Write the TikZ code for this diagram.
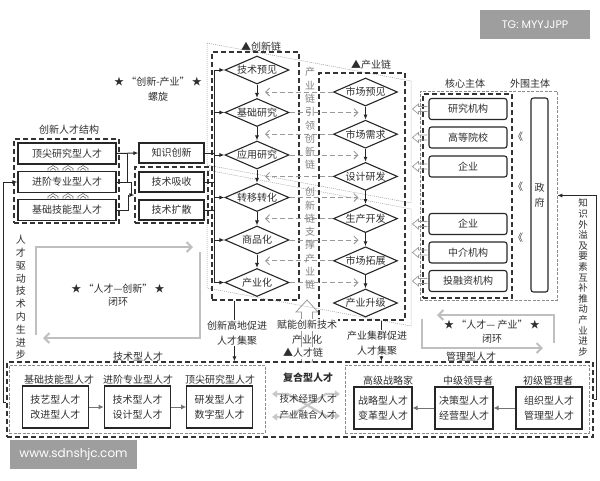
\documentclass[tikz,border=0pt]{standalone}
\usepackage{fontspec}
\setmainfont{Noto Sans CJK SC}
\newfontfamily\wmfont{Poppins}
\usetikzlibrary{arrows.meta,shapes.geometric,calc}
\begin{document}
\begin{tikzpicture}[x=1pt,y=-1pt,
  every node/.style={inner sep=0pt, text=black!82},
  font=\fontsize{10}{12}\selectfont,
  box/.style={draw=black!85, line width=1.1pt, minimum height=21pt},
  rbox/.style={box, rounded corners=2.5pt},
  dia/.style={diamond, draw=black!85, line width=1.1pt, aspect=2.3, minimum width=64pt, minimum height=28pt},
  dframe/.style={draw=black!80, line width=1.1pt, dash pattern=on 5pt off 3pt},
  gframe/.style={draw=black!45, line width=0.6pt, dash pattern=on 3pt off 1.5pt},
  dotq/.style={draw=black!40, line width=0.5pt, dash pattern=on 1pt off 1pt},
  ln/.style={draw=black!85, line width=1pt},
  arr/.style={ln, -{Latex[length=5pt,width=4pt]}},
  garr/.style={draw=black!40, line width=0.9pt, dash pattern=on 5pt off 3pt, -{Straight Barb[length=4pt,width=8pt]}},
  loopa/.style={draw=black!25, line width=2pt, -{Straight Barb[length=5pt,width=10pt]}},
  barr/.style={draw=black!55, line width=1pt, -{Latex[length=5pt,width=5pt]}},
  hol/.style={draw=black!40, line width=0.7pt},
  xarr/.style={draw=black!22, line width=2.2pt, {Triangle[length=5pt,width=7pt]}-{Triangle[length=5pt,width=7pt]}},
  vt/.style={align=center},
  two/.style={align=center, font=\fontsize{10}{15}\selectfont},
]
\useasboundingbox (0,0) rectangle (600,480);

% dotted spiral quadrilaterals
\draw[dotq] (207,43) -- (411,81) -- (411,203) -- (207,165) -- cycle;
\draw[dotq] (207,170) -- (411,209) -- (411,326) -- (207,288) -- cycle;

% gray loops
\draw[loopa] (36,335) -- (36,247) -- (193,247);
\draw[loopa] (200,252) -- (200,338) -- (43,338);
\draw[loopa] (554,343) -- (554,315) -- (437,315);
\draw[loopa] (422,319) -- (422,348) -- (543,348);

% hollow up arrow between chains
\draw[draw=black!40, line width=0.8pt] (307,300) -- (318,312) -- (312.5,312) -- (312.5,362) -- (301.5,362) -- (301.5,312) -- (296,312) -- cycle;

% frames
\node[dframe, minimum width=105, minimum height=84] (Fl) at (66.5,181) {};
\node[dframe, minimum width=73, minimum height=56] (Ft) at (171.5,195) {};
\node[dframe, minimum width=87, minimum height=248] (Fi) at (255.5,176) {};
\node[dframe, minimum width=86, minimum height=247] (Fp) at (362,196.5) {};
\node[gframe, minimum width=137, minimum height=209] (Fo) at (488.5,195.5) {};
\node[dframe, minimum width=89, minimum height=204] (Fc) at (467.5,196) {};
\node[dframe, minimum width=586, minimum height=75] (Fb) at (300,399.5) {};
\node[gframe, minimum width=256, minimum height=68] (Gl) at (137,399) {};
\node[gframe, minimum width=244, minimum height=68] (Gr) at (467,399) {};

% left talent boxes
\node[box, minimum width=98] (t1) at (67,153.5) {顶尖研究型人才};
\node[box, minimum width=98] (t2) at (67,182) {进阶专业型人才};
\node[box, minimum width=98] (t3) at (67,210) {基础技能型人才};
\foreach \x in {53,68,83} \foreach \y in {168,196} {
  \draw[black!55, line width=0.6pt] (\x-5,\y+2.5) -- (\x-5,\y+0.5) -- (\x,\y-2.5) -- (\x+5,\y+0.5) -- (\x+5,\y+2.5);
  \draw[black!55, line width=0.6pt] (\x-3,\y+2.5) -- (\x,\y) -- (\x+3,\y+2.5);
}
\node[box, minimum width=65, minimum height=20] (k1) at (171.5,153) {知识创新};
\node[box, minimum width=65, minimum height=20] (k2) at (171.5,182) {技术吸收};
\node[box, minimum width=65, minimum height=20] (k3) at (171.5,210) {技术扩散};

% innovation chain diamonds
\node[dia] (c1) at (257,70) {技术预见};
\node[dia] (c2) at (257,112.5) {基础研究};
\node[dia] (c3) at (257,155) {应用研究};
\node[dia] (c4) at (257,197.5) {转移转化};
\node[dia] (c5) at (257,240) {商品化};
\node[dia] (c6) at (257,282.5) {产业化};
% industry chain diamonds
\node[dia] (p1) at (365.5,92) {市场预见};
\node[dia] (p2) at (365.5,134.2) {市场需求};
\node[dia] (p3) at (365.5,176.4) {设计研发};
\node[dia] (p4) at (365.5,218.6) {生产开发};
\node[dia] (p5) at (365.5,260.8) {市场拓展};
\node[dia] (p6) at (365.5,303) {产业升级};

\foreach \i/\j in {1/2,2/3,3/4,4/5,5/6} {
  \draw[arr] (c\i.south) -- (c\j.north);
  \draw[arr] (p\i.south) -- (p\j.north);
}
\foreach \i in {1,...,5} \draw[garr] (p\i.west) -- ($(p\i.west -| c1.center)+(8,0)$);
\foreach \i in {2,...,6} \draw[garr] (c\i.east) -- ($(c\i.east -| p1.center)+(-7,0)$);

% bus into innovation chain
\coordinate (bt) at (214,70);
\coordinate (bb) at (214,282.5);
\draw[ln] (bt) -- (bb);
\foreach \i in {1,...,6} \draw[arr] (c\i.west -| bt) -- (c\i.west);
\draw[ln] (k1.east) -- (k1.east -| bt);
\draw[ln] (k2.east) -- (k2.east -| bt);
\draw[ln] (k3.east) -- (k3.east -| bt);

% left group connectors
\draw[arr] (t1.east) -- (k1.west);
\draw[ln] (t2.east) -| ($(t1.east)+(11,0)$);
\draw[arr] (t2.east) -- ++(15,0) |- (Ft.west);
\draw[ln] (t3.east) -| ($(Ft.west)+(-6,0)$);

% core / peripheral subjects
\node[rbox, minimum width=78] (s1) at (468,109) {研究机构};
\node[rbox, minimum width=78] (s2) at (468,137.5) {高等院校};
\node[rbox, minimum width=78] (s3) at (468,166.5) {企业};
\node[rbox, minimum width=78] (s4) at (468,224) {企业};
\node[rbox, minimum width=78] (s5) at (468,252.5) {中介机构};
\node[rbox, minimum width=78] (s6) at (468,281) {投融资机构};
\foreach \n in {s1,s2,s3,s4,s5,s6}
  \draw[hol] ($(\n.west)+(-1,-2.5)$) -- ++(-9,0) -- ++(0,-2.5) -- ++(-6,5) -- ++(6,5) -- ++(0,-2.5) -- ++(9,0);
\node[rbox, minimum width=17, minimum height=194, align=center, font=\fontsize{10}{15}\selectfont] (gov) at (539.5,195) {政\\府};
\node (q1) at (518,137) {《};
\node (q2) at (518,187) {《};
\node (q3) at (518,238) {《};

% bottom talent chain
\node[box, minimum width=65.5, minimum height=42, two] (b1) at (55.5,407) {技艺型人才\\改进型人才};
\node[box, minimum width=66.5, minimum height=42, two] (b2) at (137.5,407) {技术型人才\\设计型人才};
\node[box, minimum width=65.5, minimum height=42, two] (b3) at (219.5,407) {研发型人才\\数字型人才};
\node[box, minimum width=58, minimum height=42, two] (m1) at (383,408) {战略型人才\\变革型人才};
\node[box, minimum width=58, minimum height=42, two] (m2) at (464,408) {决策型人才\\经营型人才};
\node[box, minimum width=66, minimum height=42, two] (m3) at (549,408) {组织型人才\\管理型人才};
\draw[barr] (b1) -- (b2);
\draw[barr] (b2) -- (b3);
\draw[barr] (m3) -- (m2);
\draw[barr] (m2) -- (m1);
\draw[xarr] (272,394) -- (288,394) -- (326,416) -- (340,416);
\draw[xarr] (272,417) -- (288,417) -- (326,394) -- (340,394);

% chain to bottom connectors
\coordinate (ia) at ($(Fi.south west)+(23,0)$);
\draw[arr] (ia) -- (ia |- Fb.north);
\coordinate (pa) at ($(Fp.south west)+(63,0)$);
\draw[arr] (pa) -- (pa |- Fb.north);
% side connectors
\coordinate (lb) at (Fb.west |- 0,402);
\draw[arr] (lb) -- ++(-3,0) |- (t2.west);
\coordinate (rb) at (Fb.east |- 0,399);
\draw[arr] (rb) -- ++(3,0) |- (Fo.east);

% texts
\node (h1) at (261,47) {▲创新链};
\node (h2) at (371,65) {▲产业链};
\node (h3) at (465,84) {核心主体};
\node (h4) at (530,84) {外围主体};
\node (h5) at (69,130) {创新人才结构};
\node (h6) at (158,82) {★ “创新-产业” ★};
\node (h7) at (158,97) {螺旋};
\node (h8) at (118,289) {★ “人才—创新” ★};
\node (h9) at (118,302) {闭环};
\node (h10) at (492,325) {★ “人才— 产业” ★};
\node (h11) at (492,339) {闭环};
\node[fill=white, inner sep=1pt, two] (lab1) at (237,333) {创新高地促进\\人才集聚};
\node[fill=white, inner sep=1pt, two] (lab2) at (377,343) {产业集群促进\\人才集聚};
\node[fill=white, inner sep=1pt] (lab3) at (307,325) {赋能创新技术};
\node (lab4) at (307,340) {产业化};
\node[fill=white, inner sep=1pt] (lab5) at (303,353) {▲人才链};
\node (lab6) at (138,357) {技术型人才};
\node (lab7) at (471,357) {管理型人才};
\node (lab8) at (59,380) {基础技能型人才};
\node (lab9) at (138,380) {进阶专业型人才};
\node (lab10) at (220,380) {顶尖研究型人才};
\node (lab11) at (388,381) {高级战略家};
\node (lab12) at (468,381) {中级领导者};
\node (lab13) at (548,381) {初级管理者};
\node[font=\bfseries\fontsize{10}{12}\selectfont] (lab14) at (308,378) {复合型人才};
\node[font=\fontsize{9.5}{11}\selectfont] (lab15) at (308,399) {技术经理人才};
\node[font=\fontsize{9.5}{11}\selectfont] (lab16) at (308,415) {产业融合人才};

\node[vt, font=\fontsize{10}{12.8}\selectfont] (v1) at (21,297.5) {人\\才\\驱\\动\\技\\术\\内\\生\\进\\步};
\node[vt, text=black!50, font=\fontsize{10}{13.3}\selectfont] (v2) at (310,118.5) {产\\业\\链\\引\\领\\创\\新\\链};
\node[vt, text=black!50, font=\fontsize{10}{13.3}\selectfont] (v3) at (310,238.5) {创\\新\\链\\支\\撑\\产\\业\\链};
\node[vt, font=\fontsize{9.5}{10.6}\selectfont] (v4) at (583,277.5) {知\\识\\外\\溢\\及\\要\\素\\互\\补\\推\\动\\产\\业\\进\\步};

% watermarks
\node[fill=black!38, text=white, minimum width=110, minimum height=29, font=\wmfont\fontsize{11}{13}\selectfont] (wm1) at (535,24.5) {TG: MYYJJPP};
\node[fill=black!38, text=white, minimum width=127, minimum height=29, font=\wmfont\fontsize{12}{14}\selectfont] (wm2) at (73.5,454.5) {www.sdnshjc.com};
\end{tikzpicture}
\end{document}
